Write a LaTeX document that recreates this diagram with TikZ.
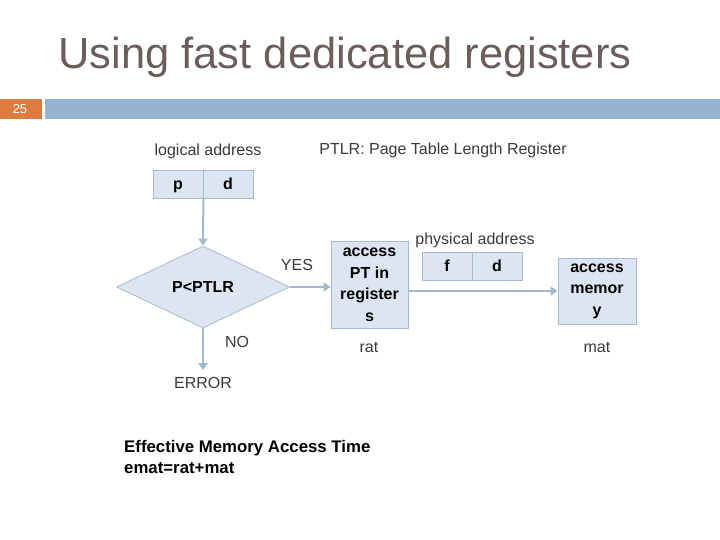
\documentclass[tikz,border=0pt]{standalone}
\usepackage{fontspec}
\setmainfont{Liberation Sans}
\usepackage{tikz}
\usetikzlibrary{positioning, arrows.meta, shapes.geometric}

\definecolor{titlegray}{HTML}{6B5E5A}
\definecolor{labelgray}{HTML}{3A3A3A}
\definecolor{barblue}{HTML}{94B4D2}
\definecolor{barorange}{HTML}{DE7B3E}
\definecolor{boxfill}{HTML}{DCE6F2}
\definecolor{boxline}{HTML}{A7BACD}
\definecolor{flowline}{HTML}{A3B8CC}

\tikzset{
  field/.style={draw=boxline, fill=boxfill, line width=0.8pt, minimum width=50pt, minimum height=28pt,
    inner sep=0pt, text height=11.5pt, text depth=0pt, font=\fontsize{16}{18}\selectfont\bfseries},
  stepbox/.style={draw=boxline, fill=boxfill, line width=0.8pt, inner sep=0pt, align=center,
    font=\fontsize{16}{21.5}\selectfont\bfseries},
  decision/.style={diamond, draw=boxline, fill=boxfill, line width=0.8pt, inner sep=0pt,
    minimum width=173pt, minimum height=82pt, aspect=2.1, font=\fontsize{16}{18}\selectfont\bfseries},
  lbl/.style={text=labelgray, inner sep=0pt, font=\fontsize{16}{18}\selectfont},
  flow/.style={draw=flowline, line width=2pt, -{Triangle[length=7pt, width=9pt]}},
}

\begin{document}
\begin{tikzpicture}[x=1pt, y=-1pt]
\useasboundingbox (0,0) rectangle (720,540);

% heading
\node[text=titlegray, font=\fontsize{43.5}{48}\selectfont] (title) at (345,57) {Using fast dedicated registers};
\fill[barorange] (0,99) rectangle (42,119);
\fill[barblue] (45,99) rectangle (720,119);
\node[text=white, font=\fontsize{13}{14}\selectfont] (num) at (20,109) {25};

% logical address
\node[lbl] (la) at (208,151) {logical address};
\node[field] (p) at (178,184) {p};
\node[field] (d) at (228,184) {d};
\node[lbl] (ptlr) at (443,150) {PTLR: Page Table Length Register};

% check against PTLR
\node[decision] (cmp) at (203,287) {P<PTLR};
\node[lbl] (yes) at (297,265) {YES};
\node[lbl] (no) at (237,342) {NO};
\node[lbl] (err) at (203,383) {ERROR};

% page table in registers
\node[stepbox, minimum width=77pt, minimum height=87pt] (acc) at (369.5,285) {access\\PT in\\register\\s};
\node[lbl] (rat) at (369,347) {rat};

% physical address
\node[lbl] (pa) at (475,240) {physical address};
\node[field] (f) at (447,266) {f};
\node[field] (d2) at (497,266) {d};

% memory
\node[stepbox, minimum width=78pt, minimum height=66pt] (mem) at (597,291) {access\\memor\\y};
\node[lbl] (mat) at (597,347) {mat};

\draw[flow] (p.south east) -- (cmp.north);
\draw[flow] (cmp.east) -- (cmp.east -| acc.west);
\draw[flow] (cmp.south) -- ([yshift=7pt]err.north);
\draw[flow] (acc.east |- mem.west) -- (mem.west);

% summary
\node[anchor=north west, align=left, inner sep=0pt, font=\fontsize{16.8}{21}\selectfont\bfseries] (emat) at (124,440)
  {Effective Memory Access Time\\emat=rat+mat};
\end{tikzpicture}
\end{document}
